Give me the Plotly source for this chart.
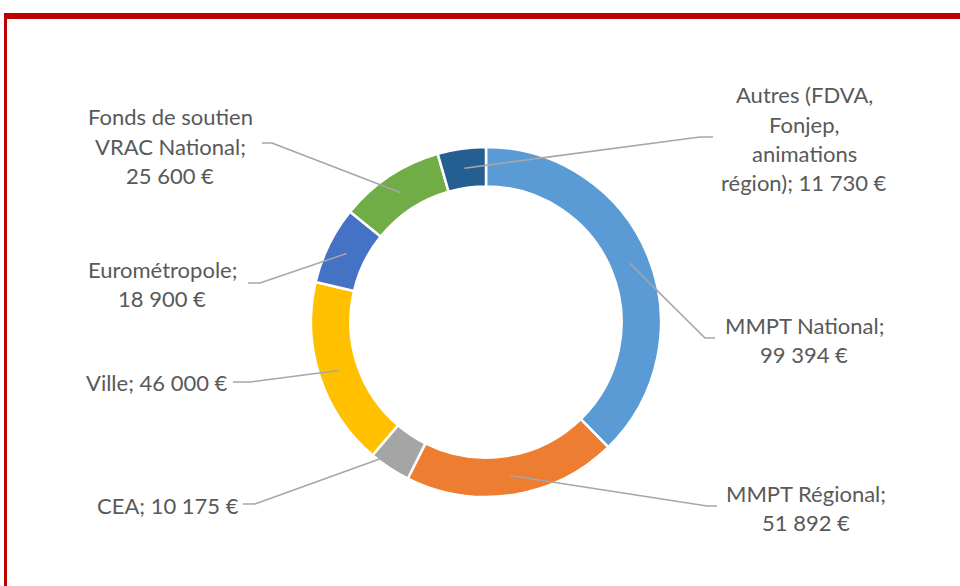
import math
import plotly.graph_objects as go

# ---- data ----
categories = ["MMPT National", "MMPT Régional", "CEA", "Ville", "Eurométropole",
              "Fonds de soutien VRAC National", "Autres (FDVA, Fonjep, animations région)"]
values = [99394, 51892, 10175, 46000, 18900, 25600, 11730]
colors = ["#5B9BD5", "#ED7D31", "#A5A5A5", "#FFC000", "#4472C4", "#70AD47", "#255E91"]

def fmt(v):
    return f"{v:,}".replace(",", " ") + " €"

# label text lines (value appended from data)
label_lines = [
    ["MMPT National;", "{v}"],
    ["MMPT Régional;", "{v}"],
    ["CEA; {v}"],
    ["Ville; {v}"],
    ["Eurométropole;", "{v}"],
    ["Fonds de soutien", "VRAC National;", "{v}"],
    ["Autres (FDVA,", "Fonjep,", "animations", "région); {v}"],
]

# ---- layout (pixel positions) ----
W, H = 960, 586
CX, CY, R = 486, 322, 175
HOLE = 0.775
# label centre x, first-line y, leader stub (x_start, x_end, y)
label_pos = [
    (804, 325, (715, 705, 338)),
    (806, 493, (717, 707, 506)),
    (168, 505, (243, 255, 504)),
    (157, 382, (233, 250, 382)),
    (162, 269, (248, 260, 283)),
    (170, 117, (262, 272, 143)),
    (804, 95, (713, 700, 137)),
]
LINE_H = 29.3

def px(x):
    return x / W

def py(y):
    return 1 - y / H

fig = go.Figure()
fig.add_trace(go.Pie(
    labels=categories, values=values, hole=HOLE, sort=False,
    direction="clockwise", rotation=0,
    marker=dict(colors=colors, line=dict(color="white", width=2.5)),
    textinfo="none", hoverinfo="label+value", showlegend=False,
    domain=dict(x=[px(CX - R), px(CX + R)], y=[py(CY + R), py(CY - R)]),
))

shapes = []
# red frame (top and left edges)
shapes.append(dict(type="rect", xref="paper", yref="paper", x0=px(4), x1=px(970),
                   y0=py(19), y1=py(13), fillcolor="#C00000", line=dict(width=0), layer="above"))
shapes.append(dict(type="rect", xref="paper", yref="paper", x0=px(4), x1=px(7),
                   y0=py(600), y1=py(13), fillcolor="#C00000", line=dict(width=0), layer="above"))

annotations = []
total = sum(values)
cum = 0
r_mid = R * (1 + HOLE) / 2
for i, v in enumerate(values):
    mid = (cum + v / 2) / total * 2 * math.pi
    cum += v
    ex = CX + r_mid * math.sin(mid)
    ey = CY - r_mid * math.cos(mid)
    lx, ly, (sx0, sx1, sy) = label_pos[i]
    path = f"M {px(sx0)},{py(sy)} L {px(sx1)},{py(sy)} L {px(ex)},{py(ey)}"
    shapes.append(dict(type="path", xref="paper", yref="paper", path=path,
                       line=dict(color="#A6A6A6", width=1.6), layer="above"))
    for k, t in enumerate(label_lines[i]):
        annotations.append(dict(
            x=px(lx), y=py(ly + k * LINE_H), xref="paper", yref="paper",
            text=t.replace("{v}", fmt(v)), showarrow=False,
            xanchor="center", yanchor="middle",
            font=dict(family="Lato", size=22, color="#595959"),
        ))

fig.update_layout(
    width=W, height=H, margin=dict(l=0, r=0, t=0, b=0),
    paper_bgcolor="white", plot_bgcolor="white",
    shapes=shapes, annotations=annotations,
)
fig.write_html("out.html",
               config={"displayModeBar": False},
               post_script="document.body.style.margin='0';document.body.style.overflow='hidden';")
